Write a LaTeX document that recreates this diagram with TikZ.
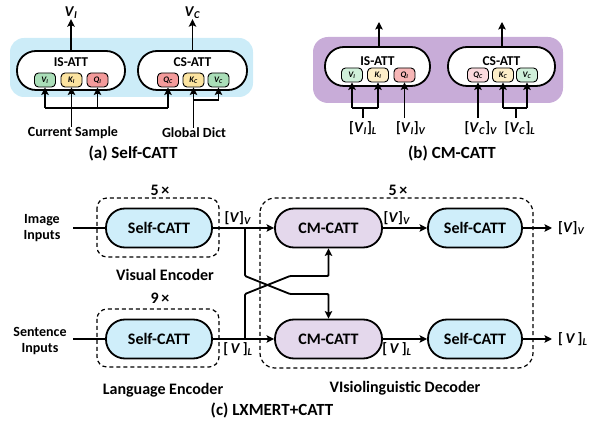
\documentclass[tikz,border=0pt]{standalone}
\usepackage{fontspec}
\setmainfont{Carlito}
\usetikzlibrary{arrows.meta,calc}
\definecolor{bgblue}{RGB}{204,236,248}
\definecolor{bgpurple}{RGB}{200,172,216}
\definecolor{selfblue}{RGB}{207,238,250}
\definecolor{cmpurple}{RGB}{228,216,236}
\definecolor{vgreen}{RGB}{170,222,184}
\definecolor{kyellow}{RGB}{252,228,160}
\definecolor{qred}{RGB}{244,155,155}
\definecolor{vgreenL}{RGB}{208,240,218}
\definecolor{kyellowL}{RGB}{253,238,200}
\definecolor{qredL}{RGB}{247,182,182}
\definecolor{qpinkL}{RGB}{251,218,222}
\newcommand\bi[1]{\textbf{\textit{#1}}}
\newcommand\vsb[2]{\bi{#1}\textsubscript{\bi{#2}}}
\begin{document}
\begin{tikzpicture}[x=1pt,y=-1pt,
  every node/.style={font=\bfseries, inner sep=0pt},
  ln/.style={line width=1.8pt},
  arr/.style={ln, -{Stealth[length=7.5pt,width=7.5pt,inset=1.5pt]}},
  att/.style={draw, line width=1.8pt, fill=white, rounded corners=19pt, minimum height=39pt},
  kv/.style={draw, line width=0.9pt, rounded corners=4pt, minimum width=21pt, minimum height=14pt, font=\bfseries\itshape\fontsize{8.5}{8.5}\selectfont},
  atttxt/.style={font=\bfseries\fontsize{13.5}{13.5}\selectfont},
  lab/.style={font=\bfseries\fontsize{14}{14}\selectfont},
  captxt/.style={font=\bfseries\fontsize{17}{17}\selectfont},
  blk/.style={draw, line width=1.8pt, rounded corners=19pt, minimum height=39pt, font=\bfseries\fontsize{16}{16}\selectfont},
  selfc/.style={blk, fill=selfblue},
  cmc/.style={blk, fill=cmpurple},
  dbox/.style={draw, dashed, line width=1.2pt, dash pattern=on 4pt off 3pt, rounded corners=10pt},
  big/.style={font=\bfseries\fontsize{16}{16}\selectfont},
  vlab/.style={font=\bfseries\fontsize{15}{15}\selectfont}
]
\useasboundingbox (0,0) rectangle (598,430);

% ---------------- Panel (a)
\node[fill=bgblue, rounded corners=14pt, minimum width=243pt, minimum height=59pt] (bgA) at (131.5,67.5) {};
\node[att, minimum width=108pt] (isA) at (71,70.5) {};
\node[atttxt] (isAt) at (71,62) {IS-ATT};
\node[kv, fill=vgreen] (vIa) at (45,80) {V\textsubscript{I}};
\node[kv, fill=kyellow] (kIa) at (71.5,80) {K\textsubscript{I}};
\node[kv, fill=qred] (qIa) at (97.5,80) {Q\textsubscript{I}};
\node[att, minimum width=109pt] (csA) at (192.5,70.5) {};
\node[atttxt] (csAt) at (192.5,62) {CS-ATT};
\node[kv, fill=qred] (qCa) at (168,80) {Q\textsubscript{C}};
\node[kv, fill=kyellow] (kCa) at (193.5,80) {K\textsubscript{C}};
\node[kv, fill=vgreen] (vCa) at (218.5,80) {V\textsubscript{C}};

\node[vlab] (outIa) at (71,13) {\vsb{V}{I}};
\node[vlab] (outCa) at (192.5,13) {\vsb{V}{C}};
\draw[arr] (isA.north) -- (outIa.south);
\draw[arr] (csA.north) -- (outCa.south);

\node[lab] (curS) at (73,133) {Current Sample};
\node[lab] (glob) at (194,133) {Global Dict};
\coordinate (ha1) at (45,108);
\coordinate (ha2) at (168,108);
\draw[ln] (ha1) -- (ha2);
\draw[arr] (ha1) -- (vIa.south);
\draw[arr] (qIa.south |- ha1) -- (qIa.south);
\draw[arr] (ha2) -- (qCa.south);
\draw[arr] (curS.north -| kIa.south) -- (kIa.south);
\coordinate (hb1) at (193.5,100);
\coordinate (hb2) at (218.5,100);
\draw[arr] (glob.north -| kCa.south) -- (kCa.south);
\draw[ln] (hb1) -- (hb2);
\draw[arr] (hb2) -- (vCa.south);
\node[captxt] (capa) at (133,153) {(a) Self-CATT};

% ---------------- Panel (b)
\node[fill=bgpurple, rounded corners=15pt, minimum width=250pt, minimum height=66pt] (bgB) at (438,70) {};
\node[att, minimum width=105pt] (isB) at (377.5,66.5) {};
\node[atttxt] (isBt) at (377.5,61) {IS-ATT};
\node[kv, fill=vgreenL] (vIb) at (352,75) {V\textsubscript{I}};
\node[kv, fill=kyellowL] (kIb) at (378,75) {K\textsubscript{I}};
\node[kv, fill=qredL] (qIb) at (404.5,75) {Q\textsubscript{I}};
\node[att, minimum width=107pt] (csB) at (501.5,66.5) {};
\node[atttxt] (csBt) at (501.5,61) {CS-ATT};
\node[kv, fill=qpinkL] (qCb) at (478,75) {Q\textsubscript{C}};
\node[kv, fill=kyellowL] (kCb) at (503,75) {K\textsubscript{C}};
\node[kv, fill=vgreenL] (vCb) at (527,75) {V\textsubscript{C}};

\coordinate (outIb) at (379,22);
\coordinate (outCb) at (502,22);
\draw[arr] (isB.north -| outIb) -- (outIb);
\draw[arr] (csB.north -| outCb) -- (outCb);

\node[vlab] (vILb) at (363,128) {[\vsb{V}{I}]\textsubscript{\bi{L}}};
\node[vlab] (vIVb) at (411,128) {[\vsb{V}{I}]\textsubscript{\bi{V}}};
\node[vlab] (vCVb) at (481,128) {[\vsb{V}{C}]\textsubscript{\bi{V}}};
\node[vlab] (vCLb) at (520,128) {[\vsb{V}{C}]\textsubscript{\bi{L}}};
\coordinate (jb1) at (363,108);
\coordinate (jb2) at (516,108);
\draw[ln] ([yshift=3pt]vILb.north -| jb1) -- (jb1);
\draw[ln] (vIb.south |- jb1) -- (kIb.south |- jb1);
\draw[arr] (vIb.south |- jb1) -- (vIb.south);
\draw[arr] (kIb.south |- jb1) -- (kIb.south);
\draw[arr] ([yshift=3pt]vIVb.north -| qIb.south) -- (qIb.south);
\draw[arr] ([yshift=3pt]vCVb.north -| qCb.south) -- (qCb.south);
\draw[ln] ([yshift=3pt]vCLb.north -| jb2) -- (jb2);
\draw[ln] (kCb.south |- jb2) -- (vCb.south |- jb2);
\draw[arr] (kCb.south |- jb2) -- (kCb.south);
\draw[arr] (vCb.south |- jb2) -- (vCb.south);
\node[captxt] (capb) at (452,153) {(b) CM-CATT};

% ---------------- Panel (c)
\draw[dbox] (97,198) rectangle (219,257);
\draw[dbox] (97,309) rectangle (219,367);
\draw[dbox, rounded corners=15pt] (260,198) rectangle (533,368);
\node[big] (n5a) at (160,190) {5\,×};
\node[big] (n9) at (160,298) {9\,×};
\node[big] (n5b) at (398,190) {5\,×};

\node[selfc, minimum width=106pt] (vse) at (159,228) {Self-CATT};
\node[selfc, minimum width=106pt] (lse) at (159,339) {Self-CATT};
\node[cmc, minimum width=107pt] (cmt) at (328.5,228) {CM-CATT};
\node[cmc, minimum width=107pt] (cmb) at (328.5,339) {CM-CATT};
\node[selfc, minimum width=94pt] (sdt) at (475,228) {Self-CATT};
\node[selfc, minimum width=94pt] (sdb) at (475,339) {Self-CATT};

\node[lab, align=center] (imgin) at (42,228) {Image\\[2pt]Inputs};
\node[lab, align=center] (senin) at (40,341) {Sentence\\[2pt]Inputs};
\draw[ln] (73,228) coordinate (imgst) -- (vse.west);
\draw[ln] (73,339) coordinate (senst) -- (lse.west);

\node[big] (vEnc) at (165,275) {Visual Encoder};
\node[big] (lEnc) at (163,390) {Language Encoder};
\node[big] (dEnc) at (405,388) {VIsiolinguistic Decoder};
\node[captxt] (capc) at (272,410) {(c) LXMERT+CATT};

\draw[arr] (vse.east) -- (cmt.west);
\draw[arr] (lse.east) -- (cmb.west);
\node[vlab] (lv1) at (238,218) {[\bi{V}]\textsubscript{\bi{V}}};
\node[vlab] (ll1) at (238,349) {[\,\bi{V}\,]\textsubscript{\bi{L}}};

\coordinate (jv) at (245,228);
\coordinate (jl) at (245,339);
\draw[arr, rounded corners=1pt] (jv) -- (245,276) -- (290,294) -- (cmb.north |- 0,294) -- (cmb.north);
\draw[arr, rounded corners=1pt] (jl) -- (245,294) -- (290,276) -- (cmt.south |- 0,276) -- (cmt.south);

\draw[arr] (cmt.east) -- (sdt.west);
\draw[arr] (cmb.east) -- (sdb.west);
\node[vlab] (lv2) at (397,218) {[\bi{V}]\textsubscript{\bi{V}}};
\node[vlab] (ll2) at (397,349) {[\,\bi{V}\,]\textsubscript{\bi{L}}};

\coordinate (ov) at (552,228);
\coordinate (ol) at (552,339);
\draw[arr] (sdt.east) -- (ov);
\draw[arr] (sdb.east) -- (ol);
\node[vlab, anchor=west] (lv3) at (558,228) {[\bi{V}]\textsubscript{\bi{V}}};
\node[vlab, anchor=west] (ll3) at (558,339) {[\,\bi{V}\,]\textsubscript{\bi{L}}};
\end{tikzpicture}
\end{document}
